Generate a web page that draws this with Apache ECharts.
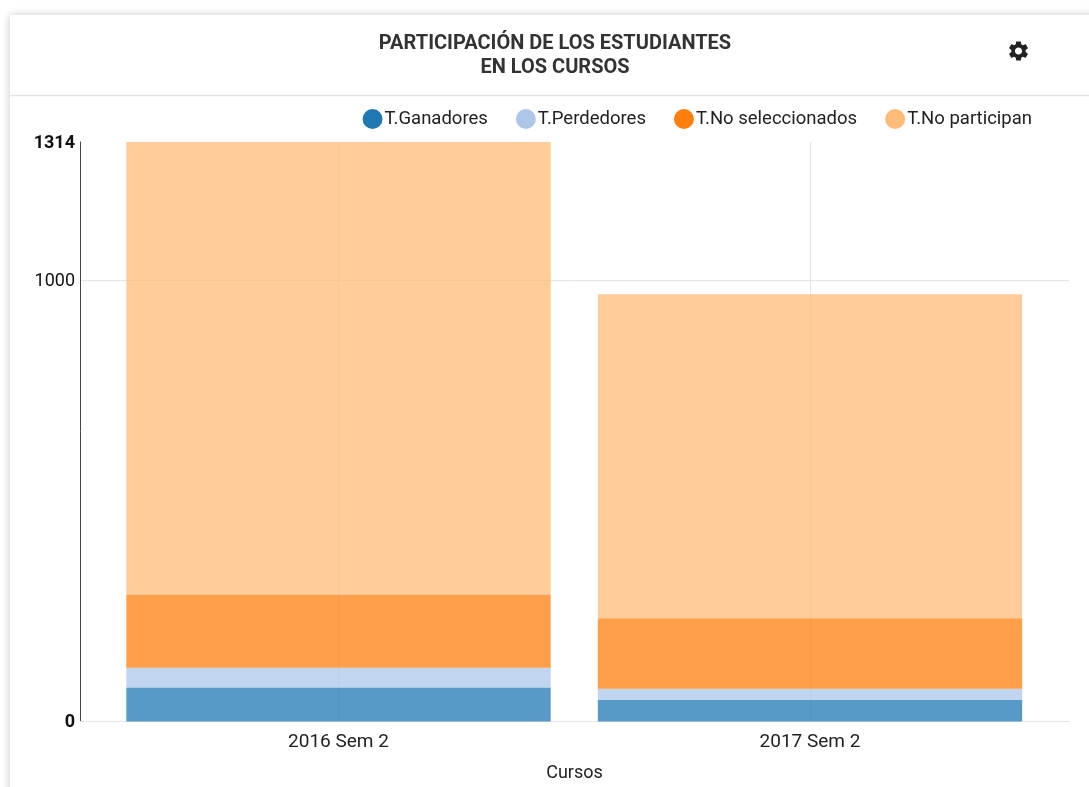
<!DOCTYPE html>
<html>
<head>
<meta charset="utf-8">
<style>html,body{margin:0;padding:0;background:#fff;overflow:hidden}#c{width:1089px;height:787px}</style>
<script src="https://cdn.jsdelivr.net/npm/echarts@6/dist/echarts.min.js"></script>
</head>
<body>
<div id="c"></div>
<script>
const categories = ['2016 Sem 2', '2017 Sem 2'];
const ganadores = [77, 49];
const perdedores = [45, 25];
const noSeleccionados = [166, 160];
const noParticipan = [1026, 735];
const yMax = 1314;
const yInterval = 1000;
const font = 'Roboto, Arial, sans-serif';
const gear = 'M19.14 12.94c.04-.3.06-.61.06-.94 0-.32-.02-.64-.07-.94l2.03-1.58c.18-.14.23-.41.12-.61l-1.92-3.32c-.12-.22-.37-.29-.59-.22l-2.39.96c-.5-.38-1.03-.7-1.62-.94l-.36-2.54c-.04-.24-.24-.41-.48-.41h-3.84c-.24 0-.43.17-.47.41l-.36 2.54c-.59.24-1.13.57-1.62.94l-2.39-.96c-.22-.08-.47 0-.59.22L2.74 8.87c-.12.21-.08.47.12.61l2.03 1.58c-.05.3-.09.63-.09.94s.02.64.07.94l-2.03 1.58c-.18.14-.23.41-.12.61l1.92 3.32c.12.22.37.29.59.22l2.39-.96c.5.38 1.03.7 1.62.94l.36 2.54c.05.24.24.41.48.41h3.84c.24 0 .44-.17.47-.41l.36-2.54c.59-.24 1.13-.56 1.62-.94l2.39.96c.22.08.47 0 .59-.22l1.92-3.32c.12-.22.07-.47-.12-.61l-2.01-1.58zM12 15.6c-1.98 0-3.6-1.62-3.6-3.6s1.62-3.6 3.6-3.6 3.6 1.62 3.6 3.6-1.62 3.6-3.6 3.6z';

echarts.graphic.registerShape('gearIcon', echarts.graphic.extendPath(gear, {}));

const seriesDefs = [
  ['T.Ganadores', ganadores, '#1f77b4'],
  ['T.Perdedores', perdedores, '#aec7e8'],
  ['T.No seleccionados', noSeleccionados, '#ff7f0e'],
  ['T.No participan', noParticipan, '#ffbb78']
];

const chart = echarts.init(document.getElementById('c'), null, {renderer: 'canvas'});
chart.setOption({
  animation: false,
  backgroundColor: '#fff',
  textStyle: {fontFamily: font},
  title: {
    text: 'PARTICIPACIÓN DE LOS ESTUDIANTES\nEN LOS CURSOS',
    left: 550, top: 27, textAlign: 'center',
    textStyle: {fontFamily: font, fontSize: 20, fontWeight: 'bold', color: '#333', lineHeight: 24}
  },
  legend: {
    right: 52, top: 104,
    icon: 'circle', itemWidth: 20, itemHeight: 20, itemGap: 28,
    itemStyle: {opacity: 1},
    textStyle: {fontFamily: font, fontSize: 18.5, color: '#222', padding: [0, 0, 0, -3]},
    data: seriesDefs.map(d => d[0])
  },
  grid: [
    {left: 80, right: 20, top: 142, bottom: 65.5, outerBoundsMode: 'none'},
    {left: 102.75, right: 43.25, top: 142, bottom: 65.5, outerBoundsMode: 'none'}
  ],
  xAxis: [
    {
      gridIndex: 0, type: 'category', data: categories,
      name: 'Cursos', nameLocation: 'middle', nameGap: 43,
      nameTextStyle: {fontFamily: font, fontSize: 18, color: '#222'},
      axisLine: {show: true, lineStyle: {color: '#e5e5e5'}},
      axisTick: {show: false}, axisLabel: {show: false}, splitLine: {show: false}
    },
    {
      gridIndex: 1, type: 'category', data: categories,
      axisLine: {show: false}, axisTick: {show: false},
      axisLabel: {fontFamily: font, fontSize: 19, color: '#222', margin: 11},
      splitLine: {show: true, alignWithLabel: true, lineStyle: {color: '#e5e5e5', width: 1}}
    }
  ],
  yAxis: [
    {
      gridIndex: 0, type: 'value', min: 0, max: yMax, interval: yInterval,
      axisLine: {show: true, lineStyle: {color: '#444', width: 1}},
      axisTick: {show: false},
      axisLabel: {
        margin: 5, fontFamily: font, fontSize: 18, color: '#111',
        padding: [2, 0, 0, 0],
        showMinLabel: true, showMaxLabel: true,
        formatter: v => (v === 0 || v === yMax) ? '{b|' + v + '}' : String(v),
        rich: {b: {fontFamily: font, fontSize: 18, fontWeight: 'bold', color: '#111'}}
      },
      splitLine: {show: true, showMinLine: false, showMaxLine: false, lineStyle: {color: '#e5e5e5', width: 1}}
    },
    {
      gridIndex: 1, type: 'value', min: 0, max: yMax, show: false,
      splitLine: {show: false}
    }
  ],
  series: seriesDefs.map(d => ({
    name: d[0], type: 'bar', stack: 'total', xAxisIndex: 1, yAxisIndex: 1,
    barWidth: '90%', data: d[1],
    itemStyle: {color: d[2], opacity: 0.75}
  })),
  graphic: [
    {type: 'rect', silent: true, z: -10,
     shape: {x: 10, y: 15, width: 1120, height: 820},
     style: {fill: '#fff', shadowBlur: 8, shadowColor: 'rgba(0,0,0,0.22)'}},
    {type: 'line', silent: true, z: -9,
     shape: {x1: 10, y1: 95.5, x2: 1089, y2: 95.5},
     style: {stroke: '#e4e4e4', lineWidth: 1.5}},
    {type: 'gearIcon', silent: true, z: 5, x: 1006.5, y: 39,
     style: {fill: '#222'}}
  ]
});
</script>
</body>
</html>
